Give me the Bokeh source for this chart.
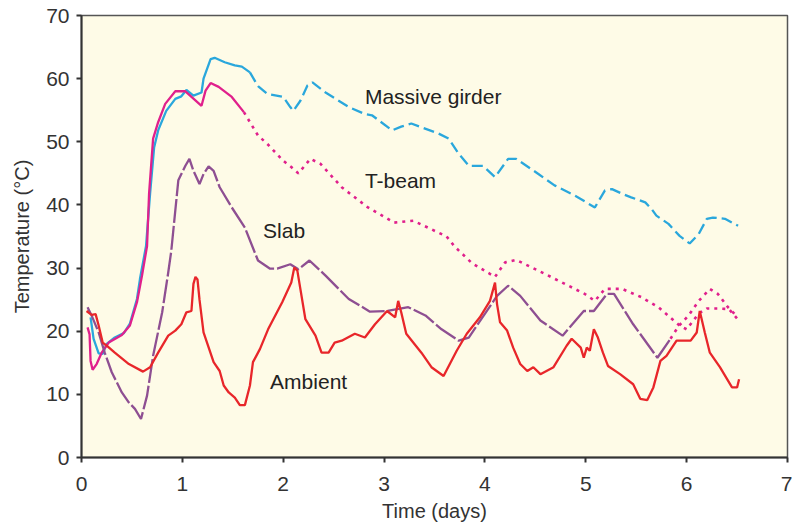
from bokeh.plotting import figure
from bokeh.models import Label, Range1d, FixedTicker
from bokeh.embed import file_html
from bokeh.resources import INLINE

# ---------------- data (days, °C) ----------------
girder_solid_x = [0.09, 0.12, 0.17, 0.21, 0.25, 0.33, 0.42, 0.48, 0.55, 0.58, 0.64, 0.68, 0.72, 0.76, 0.84, 0.93,
                  0.99, 1.04, 1.11, 1.19, 1.21, 1.28, 1.32, 1.42, 1.52, 1.59, 1.67]
girder_solid_y = [22.2, 18.8, 16.5, 16.4, 18.0, 19.0, 19.7, 21.2, 25.1, 28.3, 33.5, 41.8, 49.1, 51.8, 54.9, 56.8,
                  57.2, 58.2, 57.3, 57.8, 60.0, 63.1, 63.3, 62.6, 62.1, 61.9, 61.0]
girder_dash_x = [1.67, 1.75, 1.84, 2.00, 2.07, 2.10, 2.17, 2.24, 2.29, 2.42, 2.65, 2.81, 2.88, 3.08, 3.17, 3.27,
                 3.54, 3.64, 3.74, 3.84, 3.98, 4.10, 4.23, 4.31, 4.53, 4.69, 4.89, 5.09, 5.19, 5.26, 5.37, 5.45,
                 5.59, 5.65, 5.70, 5.82, 5.93, 6.03, 6.12, 6.20, 6.26, 6.38, 6.51]
girder_dash_y = [61.0, 58.8, 57.6, 57.1, 55.5, 54.9, 56.5, 58.9, 59.4, 57.8, 55.5, 54.4, 54.2, 51.8, 52.4, 52.9,
                 51.3, 50.5, 48.1, 46.2, 46.2, 44.4, 47.3, 47.3, 44.9, 43.1, 41.5, 39.6, 42.3, 42.5, 41.7, 41.2,
                 40.4, 39.4, 38.3, 37.0, 35.1, 33.9, 35.4, 37.8, 38.0, 37.8, 36.7]

tbeam_solid_x = [0.06, 0.08, 0.09, 0.11, 0.15, 0.20, 0.27, 0.40, 0.48, 0.55, 0.60, 0.65, 0.67, 0.71, 0.76, 0.83,
                 0.93, 1.03, 1.19, 1.23, 1.28, 1.36, 1.49, 1.61]
tbeam_solid_y = [20.6, 19.5, 15.3, 13.9, 14.8, 16.6, 18.2, 19.4, 20.9, 24.6, 28.8, 33.5, 41.8, 50.5, 53.1, 56.0,
                 58.0, 58.0, 55.7, 58.1, 59.3, 58.7, 57.1, 54.7]
tbeam_dot_x = [1.61, 1.75, 1.84, 2.00, 2.08, 2.15, 2.27, 2.37, 2.58, 2.84, 3.10, 3.29, 3.62, 3.70, 3.87, 4.10,
               4.20, 4.31, 4.63, 4.99, 5.09, 5.19, 5.36, 5.55, 5.72, 5.93, 6.00, 6.12, 6.20, 6.31, 6.42, 6.50]
tbeam_dot_y = [54.7, 51.0, 49.7, 47.0, 46.0, 45.0, 47.3, 46.5, 42.8, 39.6, 37.2, 37.5, 35.0, 33.4, 30.8, 28.6,
               30.9, 31.3, 28.8, 25.9, 24.8, 26.7, 26.7, 25.4, 23.8, 20.9, 20.3, 22.8, 23.6, 23.6, 23.5, 22.0]

slab_x = [0.06, 0.10, 0.17, 0.23, 0.30, 0.40, 0.47, 0.53, 0.59, 0.65, 0.71, 0.80, 0.86, 0.89, 0.96, 0.99, 1.03,
          1.07, 1.11, 1.17, 1.21, 1.26, 1.31, 1.37, 1.49, 1.62, 1.75, 1.87, 1.94, 2.07, 2.15, 2.26, 2.42, 2.65,
          2.86, 3.03, 3.24, 3.41, 3.57, 3.74, 3.84, 4.12, 4.23, 4.35, 4.55, 4.77, 4.98, 5.08, 5.21, 5.28, 5.47,
          5.71, 5.84]
slab_y = [23.8, 22.5, 19.8, 16.6, 13.5, 10.3, 8.7, 7.7, 6.1, 9.8, 16.1, 23.0, 29.3, 32.7, 43.9, 44.9, 46.2,
          47.3, 45.4, 43.3, 44.9, 46.1, 45.4, 42.8, 39.6, 36.4, 31.2, 29.9, 29.9, 30.6, 29.8, 31.2, 28.8, 25.1,
          23.1, 23.2, 23.8, 22.5, 20.3, 18.5, 19.0, 25.6, 27.2, 25.6, 21.7, 19.3, 23.2, 23.2, 25.9, 25.9, 21.1,
          15.8, 18.8]
slab_dot_x = [5.84, 5.92, 6.02, 6.12, 6.23, 6.31, 6.41, 6.49]
slab_dot_y = [18.8, 20.8, 22.5, 24.8, 26.7, 25.9, 23.8, 22.5]

ambient_x = [0.05, 0.10, 0.14, 0.17, 0.21, 0.25, 0.33, 0.47, 0.61, 0.68, 0.76, 0.86, 0.93, 0.99, 1.04, 1.09,
             1.11, 1.13, 1.15, 1.17, 1.21, 1.31, 1.37, 1.41, 1.46, 1.52, 1.57, 1.62, 1.67, 1.70, 1.77, 1.85,
             1.99, 2.08, 2.11, 2.14, 2.17, 2.22, 2.32, 2.38, 2.45, 2.51, 2.58, 2.71, 2.81, 2.91, 3.03, 3.11,
             3.14, 3.17, 3.22, 3.37, 3.47, 3.59, 3.72, 3.82, 3.95, 4.05, 4.10, 4.12, 4.15, 4.22, 4.28, 4.35,
             4.42, 4.48, 4.55, 4.68, 4.81, 4.86, 4.95, 4.98, 5.01, 5.04, 5.08, 5.12, 5.17, 5.22, 5.34, 5.47,
             5.54, 5.61, 5.67, 5.74, 5.80, 5.90, 6.04, 6.10, 6.13, 6.18, 6.23, 6.33, 6.45, 6.50, 6.52]
ambient_y = [23.2, 22.6, 22.7, 20.9, 18.2, 17.7, 16.6, 14.8, 13.6, 14.3, 16.6, 19.3, 20.1, 21.1, 23.0, 23.2,
             27.5, 28.6, 28.2, 25.0, 19.8, 15.1, 13.7, 11.4, 10.3, 9.5, 8.3, 8.3, 11.4, 15.1, 17.2, 20.3,
             24.6, 27.7, 30.1, 29.6, 26.7, 21.9, 19.3, 16.6, 16.6, 18.2, 18.5, 19.6, 19.0, 21.1, 23.2, 22.2,
             24.8, 23.0, 19.6, 16.6, 14.3, 12.9, 16.9, 19.6, 22.2, 24.8, 27.7, 24.3, 21.4, 20.1, 17.4, 14.8,
             13.7, 14.3, 13.2, 14.3, 17.7, 18.8, 17.4, 15.8, 17.4, 16.9, 20.3, 19.0, 16.6, 14.5, 13.2, 11.6,
             9.3, 9.1, 11.1, 15.3, 16.1, 18.5, 18.5, 19.8, 23.2, 19.8, 16.6, 14.3, 11.1, 11.1, 12.4]

x_ticks = [0, 1, 2, 3, 4, 5, 6, 7]
y_ticks = [0, 10, 20, 30, 40, 50, 60, 70]

labels = [("Massive girder", 2.81, 57.2), ("T-beam", 2.81, 43.8), ("Slab", 1.80, 35.9), ("Ambient", 1.87, 12.0)]

# ---------------- styles ----------------
C_GIRDER = "#2AA7DC"
C_TBEAM = "#E0208C"
C_SLAB = "#8E4F92"
C_AMB = "#E8262A"
FONT = "Liberation Sans"

p = figure(width=792, height=529, output_backend="svg", toolbar_location=None,
           x_range=Range1d(0, 7), y_range=Range1d(0, 70),
           min_border_left=81, min_border_right=5, min_border_top=15, min_border_bottom=72)
p.background_fill_color = "#FEFBE7"
p.border_fill_color = "white"
p.outline_line_color = "#555555"
p.outline_line_width = 1.5
p.xgrid.visible = False
p.ygrid.visible = False

for ax, ticks in ((p.xaxis[0], x_ticks), (p.yaxis[0], y_ticks)):
    ax.ticker = FixedTicker(ticks=ticks)
    ax.minor_tick_line_color = None
    ax.major_tick_in = 0
    ax.major_tick_out = 5
    ax.major_tick_line_width = 2
    ax.major_tick_line_color = "#333333"
    ax.axis_line_width = 2
    ax.axis_line_color = "#333333"
    ax.major_label_text_font = FONT
    ax.major_label_text_font_size = "21px"
    ax.major_label_text_color = "#333333"
    ax.axis_label_text_font = FONT
    ax.axis_label_text_font_size = "20px"
    ax.axis_label_text_font_style = "normal"
    ax.axis_label_text_color = "#333333"

p.xaxis.axis_label = "Time (days)"
p.yaxis.axis_label = "Temperature (°C)"
p.xaxis.major_label_standoff = 14
p.xaxis.axis_label_standoff = 6
p.yaxis.major_label_standoff = 7
p.yaxis.axis_label_standoff = 10

LW = 2.3
p.line(girder_solid_x, girder_solid_y, line_color=C_GIRDER, line_width=LW)
p.line(girder_dash_x, girder_dash_y, line_color=C_GIRDER, line_width=LW, line_dash="11 5")
p.line(tbeam_solid_x, tbeam_solid_y, line_color=C_TBEAM, line_width=LW)
p.line(tbeam_dot_x, tbeam_dot_y, line_color=C_TBEAM, line_width=2.6, line_dash="3 5")
p.line(slab_x, slab_y, line_color=C_SLAB, line_width=LW, line_dash="24 3")
p.line(slab_dot_x, slab_dot_y, line_color=C_TBEAM, line_width=2.6, line_dash="3 5")
p.line(ambient_x, ambient_y, line_color=C_AMB, line_width=LW)

for text, lx, ly in labels:
    p.add_layout(Label(x=lx, y=ly, text=text, text_font=FONT, text_font_size="21px",
                       text_color="#222222", text_baseline="middle", text_align="left"))

open("out.html", "w").write(file_html(p, INLINE))
